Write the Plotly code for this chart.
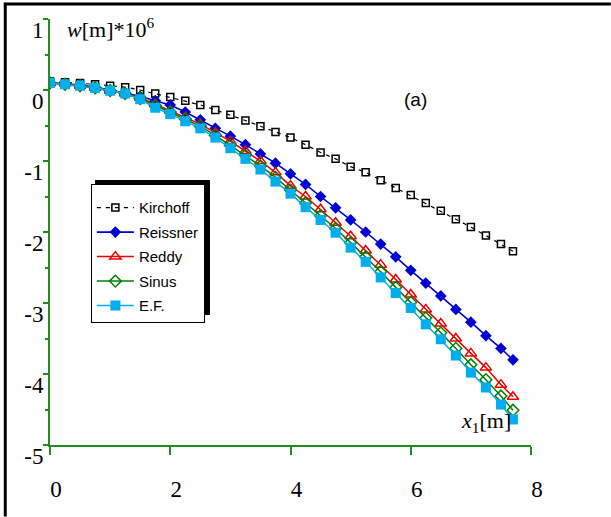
import plotly.graph_objects as go

x_vals = [0, 0.25, 0.5, 0.75, 1.0, 1.25, 1.5, 1.75, 2.0, 2.25, 2.5, 2.75, 3.0, 3.25, 3.5, 3.75,
          4.0, 4.25, 4.5, 4.75, 5.0, 5.25, 5.5, 5.75, 6.0, 6.25, 6.5, 6.75, 7.0, 7.25, 7.5, 7.7]

kirchoff = [0.12, 0.11, 0.10, 0.08, 0.06, 0.04, 0.0, -0.05, -0.10, -0.15, -0.21, -0.28, -0.35, -0.43,
            -0.51, -0.59, -0.67, -0.77, -0.88, -0.97, -1.08, -1.16, -1.27, -1.38, -1.48, -1.59, -1.70,
            -1.82, -1.93, -2.05, -2.17, -2.27]
reissner = [0.10, 0.09, 0.07, 0.04, 0.0, -0.04, -0.09, -0.15, -0.21, -0.31, -0.42, -0.54, -0.65, -0.77,
            -0.90, -1.03, -1.18, -1.33, -1.50, -1.66, -1.83, -2.00, -2.17, -2.35, -2.54, -2.72, -2.90,
            -3.09, -3.27, -3.46, -3.64, -3.80]
reddy = [0.10, 0.09, 0.06, 0.03, -0.01, -0.05, -0.11, -0.20, -0.29, -0.38, -0.48, -0.60, -0.72, -0.86,
         -1.00, -1.16, -1.35, -1.50, -1.68, -1.87, -2.06, -2.26, -2.46, -2.67, -2.88, -3.09, -3.29,
         -3.50, -3.71, -3.91, -4.15, -4.32]
sinus = [0.10, 0.08, 0.06, 0.03, -0.01, -0.05, -0.12, -0.22, -0.31, -0.41, -0.51, -0.64, -0.78, -0.92,
         -1.07, -1.23, -1.41, -1.59, -1.77, -1.95, -2.15, -2.35, -2.56, -2.78, -2.99, -3.21, -3.42,
         -3.64, -3.87, -4.08, -4.31, -4.51]
ef = [0.10, 0.08, 0.06, 0.03, -0.01, -0.05, -0.13, -0.25, -0.34, -0.44, -0.54, -0.67, -0.82, -0.97,
      -1.12, -1.29, -1.46, -1.65, -1.83, -2.01, -2.22, -2.42, -2.64, -2.86, -3.07, -3.30, -3.51,
      -3.74, -3.98, -4.19, -4.43, -4.64]

x_ticks = [0, 2, 4, 6, 8]
y_ticks = [1, 0, -1, -2, -3, -4, -5]

axis_green = "rgb(34,139,34)"
serif = "Liberation Serif, Times New Roman, serif"
sans = "Liberation Sans, Arial, sans-serif"

fig = go.Figure()
fig.add_trace(go.Scatter(x=x_vals, y=kirchoff, name="Kirchoff", mode="lines+markers", legendgroup="a",
                         line=dict(color="black", width=1.2, dash="4px,5px"),
                         marker=dict(symbol="square-open", size=7, color="black", line=dict(width=1.5))))
fig.add_trace(go.Scatter(x=x_vals, y=reissner, name="Reissner", mode="lines+markers", legendgroup="b",
                         line=dict(color="rgb(0,0,210)", width=1.6),
                         marker=dict(symbol="diamond", size=9, color="rgb(0,0,210)")))
fig.add_trace(go.Scatter(x=x_vals, y=reddy, name="Reddy", mode="lines+markers", legendgroup="c",
                         line=dict(color="rgb(235,0,0)", width=1.5),
                         marker=dict(symbol="triangle-up-open", size=10, color="rgb(235,0,0)",
                                     line=dict(width=1.5))))
fig.add_trace(go.Scatter(x=x_vals, y=sinus, name="Sinus", mode="lines+markers", legendgroup="d",
                         line=dict(color="rgb(0,128,0)", width=1.5),
                         marker=dict(symbol="diamond-open", size=9, color="rgb(0,128,0)",
                                     line=dict(width=1.5))))
fig.add_trace(go.Scatter(x=x_vals, y=ef, name="E.F.", mode="lines+markers", legendgroup="e",
                         line=dict(color="rgb(0,174,239)", width=1.5),
                         marker=dict(symbol="square", size=10, color="rgb(0,174,239)")))

fig.update_layout(
    width=611, height=517,
    margin=dict(l=50, r=80, t=19, b=72, autoexpand=False),
    paper_bgcolor="white", plot_bgcolor="white",
    showlegend=True,
    legend=dict(x=0.085, y=0.613, xanchor="left", yanchor="top",
                bgcolor="white", bordercolor="black", borderwidth=1, tracegroupgap=2,
                title=dict(text="&nbsp;", font=dict(family=sans, size=5)),
                font=dict(family=sans, size=15, color="black"), itemwidth=37),
    xaxis=dict(range=[0, 8], tickvals=x_ticks, ticktext=[str(v) for v in x_ticks], automargin=False,
               showgrid=False, zeroline=False, showline=True, linecolor=axis_green, linewidth=2,
               ticks="outside", ticklen=8, tickcolor=axis_green, tickwidth=2,
               tickfont=dict(family=serif, size=23, color="black"),
               ticklabelstandoff=14, ticklabelshift=6),
    yaxis=dict(range=[-5, 1], tickvals=y_ticks, ticktext=[str(v) for v in y_ticks], automargin=False,
               showgrid=False, zeroline=False, showline=True, linecolor=axis_green, linewidth=2,
               ticks="outside", ticklen=5, tickcolor=axis_green, tickwidth=2,
               ticklabelposition="outside bottom", ticklabelshift=-6,
               tickfont=dict(family=serif, size=23, color="black"),
               minor=dict(dtick=0.5, tick0=0, ticks="outside", ticklen=3,
                          tickcolor=axis_green, tickwidth=2)),
    shapes=[
        dict(type="line", xref="paper", yref="paper", x0=-0.093, x1=-0.093, y0=-0.168, y1=1.038,
             line=dict(color="black", width=3), layer="above"),
        dict(type="line", xref="paper", yref="paper", x0=-0.096, x1=1.166, y0=1.035, y1=1.035,
             line=dict(color="black", width=3), layer="above"),
        dict(type="rect", xref="paper", yref="paper", x0=0.0936, x1=0.3326, y0=0.305, y1=0.622,
             line=dict(color="black", width=0), fillcolor="black", layer="above"),
    ],
    annotations=[
        dict(text="<i>w</i>[m]*10<sup>6</sup>", xref="paper", yref="paper", x=0.125, y=0.98,
             xanchor="center", yanchor="middle", showarrow=False,
             font=dict(family=serif, size=22, color="black")),
        dict(text="(a)", xref="paper", yref="paper", x=0.759, y=0.81,
             xanchor="center", yanchor="middle", showarrow=False,
             font=dict(family=sans, size=19, color="black")),
        dict(text="<i>x</i><sub>1</sub>[m]", xref="paper", yref="paper", x=0.906, y=0.055,
             xanchor="center", yanchor="middle", showarrow=False,
             font=dict(family=serif, size=22, color="black")),
    ],
)

fig.write_html("out.html", config={"displayModeBar": False, "staticPlot": True},
               post_script="document.body.style.margin='0px';")
